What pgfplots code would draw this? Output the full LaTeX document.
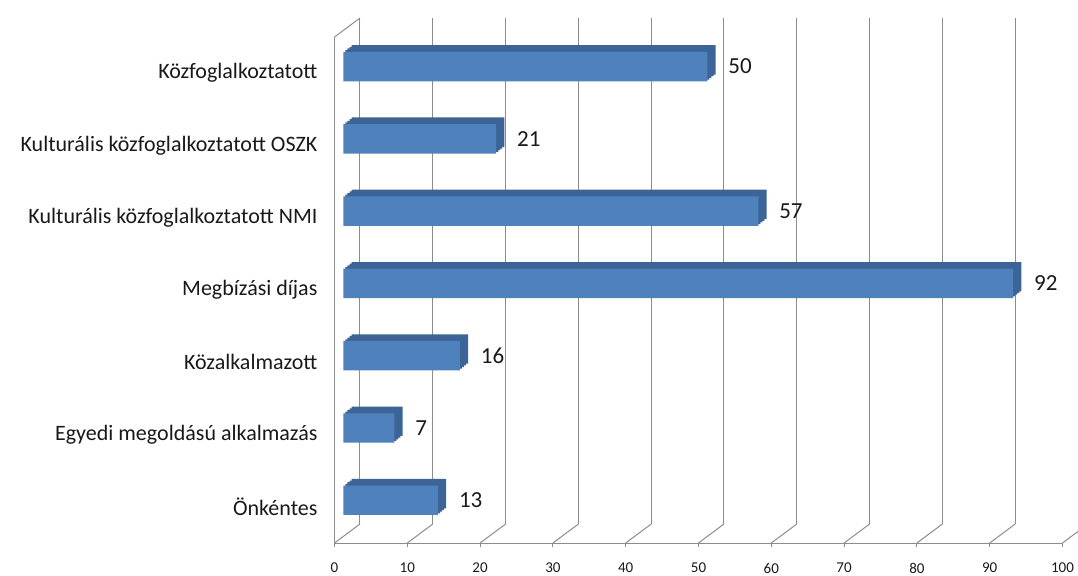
\documentclass[border=0pt]{standalone}
\usepackage{pgfplots}
\pgfplotsset{compat=1.18}
\usepackage{pgfplotstable}
\usepackage{fontspec}
\setmainfont{Carlito}
\definecolor{front}{HTML}{4F81BD}
\definecolor{depth}{HTML}{3C6496}
\definecolor{gridgray}{RGB}{140,140,140}
\definecolor{txt}{RGB}{25,25,25}

\pgfplotstableread{
i v
0 13
1 7
2 16
3 92
4 57
5 21
6 50
}\data

\begin{document}
\begin{tikzpicture}
\path[use as bounding box] (0,0) rectangle (539pt,287.5pt);
\begin{axis}[
  at={(167.25pt,16pt)}, anchor=south west,
  scale only axis, width=364pt, height=253pt,
  xmin=0, xmax=100, ymin=-0.5, ymax=6.5,
  clip=false,
  axis lines*=left,
  axis line style={gridgray, line width=0.5pt, -},
  xtick={0,10,...,100},
  xtick align=outside,
  major tick length=2pt,
  minor tick length=3pt,
  xtick style={gridgray, line width=0.5pt},
  ytick={0,...,6},
  ytick style={draw=none},
  minor ytick={-0.5,0.5,...,6.5},
  minor y tick style={gridgray, line width=0.5pt},
  ytick align=outside,
  yticklabels={Önkéntes, Egyedi megoldású alkalmazás, Közalkalmazott, Megbízási díjas, Kulturális közfoglalkoztatott NMI, Kulturális közfoglalkoztatott OSZK, Közfoglalkoztatott},
  yticklabel style={font=\fontsize{11}{13}\selectfont, text=txt, xshift=-3pt},
  xticklabel style={font=\fontsize{7.5}{8}\selectfont, text=txt, yshift=-4.5pt},
  /pgf/number format/assume math mode=true,
  xmajorgrids,
  major grid style={gridgray, line width=0.5pt, xshift=12.75pt, yshift=9.5pt},
]
\addplot[xbar, bar shift=0pt, bar width=14.7pt, fill=depth, draw=none, xshift=8.55pt, yshift=6.65pt] table[x=v,y=i]{\data};
\addplot[xbar, bar shift=0pt, bar width=14.7pt, fill=depth, draw=none, xshift=7.51pt, yshift=5.81pt] table[x=v,y=i]{\data};
\addplot[xbar, bar shift=0pt, bar width=14.7pt, fill=depth, draw=none, xshift=6.48pt, yshift=4.98pt] table[x=v,y=i]{\data};
\addplot[xbar, bar shift=0pt, bar width=14.7pt, fill=depth, draw=none, xshift=5.44pt, yshift=4.14pt] table[x=v,y=i]{\data};
\addplot[xbar, bar shift=0pt, bar width=14.7pt, fill=front, draw=none, xshift=4.4pt, yshift=3.3pt,
  nodes near coords,
  nodes near coords style={font=\fontsize{11.5}{13}\selectfont, text=txt, anchor=west, xshift=7pt},
] table[x=v,y=i]{\data};
\pgfplotsinvokeforeach{0,10,...,100}{
  \draw[gridgray, line width=0.5pt] (axis cs:#1,-0.5) -- ++(12.75pt,9.5pt);
}
\draw[gridgray, line width=0.5pt] (axis cs:0,6.5) -- ++(12.75pt,9.5pt);
\end{axis}
\end{tikzpicture}
\end{document}
